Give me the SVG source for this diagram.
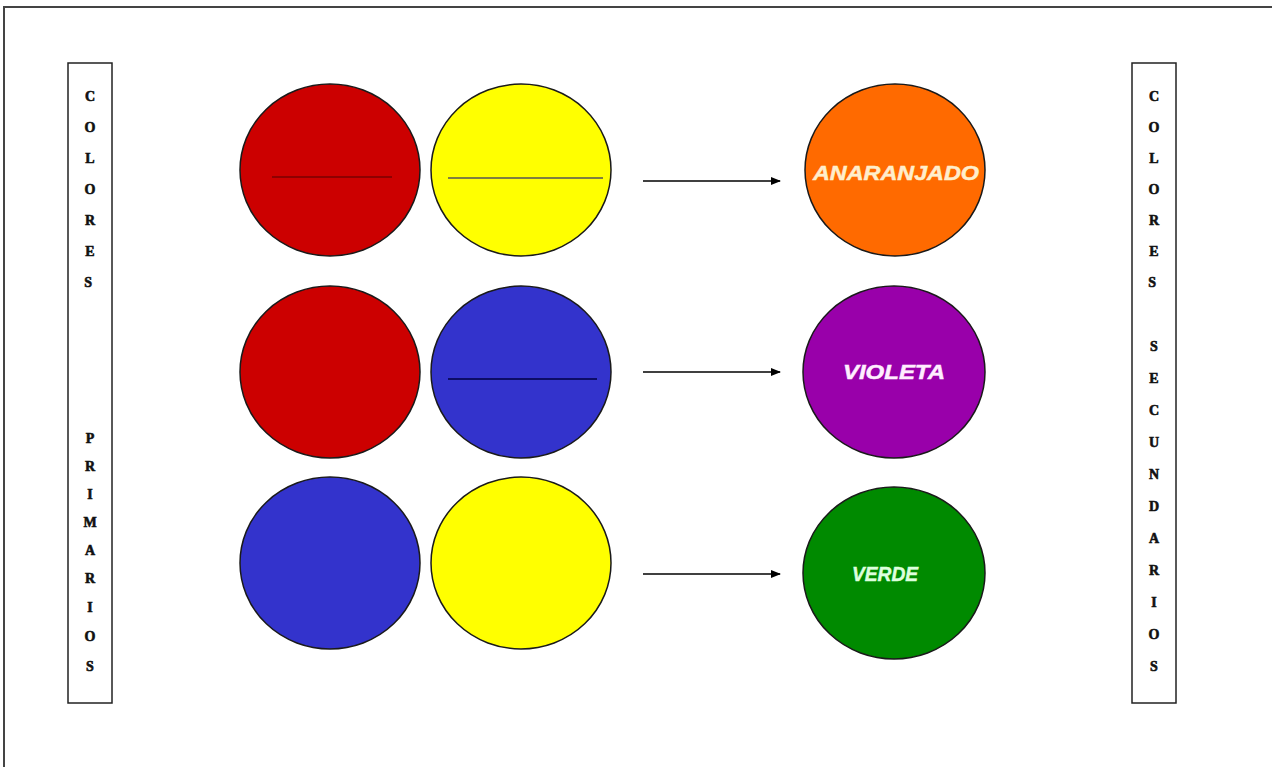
<svg xmlns="http://www.w3.org/2000/svg" width="1272" height="767" viewBox="0 0 1272 767">
<style>
.frame{fill:none;stroke:#444;stroke-width:2}
.box{fill:#fff;stroke:#222;stroke-width:1.5}
.vt{font-family:"Liberation Serif",serif;font-weight:bold;font-size:14px;fill:#111;stroke:#111;stroke-width:0.6;text-anchor:middle}
.c{stroke:#1a1a1a;stroke-width:1.5}
.bar{stroke-width:1.6}
.lbl{font-family:"Liberation Sans",Arial,sans-serif;font-weight:bold;font-style:italic;font-size:21px;text-anchor:middle;stroke-width:0.5}
.conn{stroke:#000;stroke-width:1.3;fill:none}
</style>
<defs>
<marker id="ah" markerWidth="10" markerHeight="8" refX="9" refY="4" orient="auto" markerUnits="userSpaceOnUse">
<path d="M0,0 L10,4 L0,8 Z" fill="#000"/>
</marker>
</defs>
<rect width="1272" height="767" fill="#fff"/>
<path class="frame" d="M4,767 V7 H1272"/>
<g id="primarios">
<rect class="box" x="68" y="63" width="44" height="640"/>
<text class="vt">
<tspan x="90" y="101">C</tspan><tspan x="90" y="132">O</tspan><tspan x="90" y="163">L</tspan><tspan x="90" y="194">O</tspan><tspan x="90" y="225">R</tspan><tspan x="90" y="256">E</tspan><tspan x="90" y="287">S</tspan>
<tspan x="90" y="443">P</tspan><tspan x="90" y="471">R</tspan><tspan x="90" y="499">I</tspan><tspan x="90" y="527">M</tspan><tspan x="90" y="555">A</tspan><tspan x="90" y="583">R</tspan><tspan x="90" y="612">I</tspan><tspan x="90" y="641">O</tspan><tspan x="90" y="671">S</tspan>
</text>
</g>
<g id="secundarios">
<rect class="box" x="1132" y="63" width="44" height="640"/>
<text class="vt">
<tspan x="1154" y="101">C</tspan><tspan x="1154" y="132">O</tspan><tspan x="1154" y="163">L</tspan><tspan x="1154" y="194">O</tspan><tspan x="1154" y="225">R</tspan><tspan x="1154" y="256">E</tspan><tspan x="1154" y="287">S</tspan>
<tspan x="1154" y="351">S</tspan><tspan x="1154" y="383">E</tspan><tspan x="1154" y="415">C</tspan><tspan x="1154" y="447">U</tspan><tspan x="1154" y="479">N</tspan><tspan x="1154" y="511">D</tspan><tspan x="1154" y="543">A</tspan><tspan x="1154" y="575">R</tspan><tspan x="1154" y="607">I</tspan><tspan x="1154" y="639">O</tspan><tspan x="1154" y="671">S</tspan>
</text>
</g>
<g id="rojo1">
<ellipse class="c" cx="330" cy="170" rx="90" ry="86" fill="#cc0000"/>
<line class="bar" x1="272" y1="177" x2="392" y2="177" stroke="#7a0000"/>
</g>
<g id="amarillo1">
<ellipse class="c" cx="521" cy="170" rx="90" ry="86" fill="#ffff00"/>
<line class="bar" x1="448" y1="178" x2="603" y2="178" stroke="#555"/>
</g>
<g id="anaranjado">
<ellipse class="c" cx="895" cy="170" rx="90" ry="86" fill="#ff6a00"/>
<text class="lbl" x="896" y="180" fill="#ffeecc" stroke="#ffeecc" textLength="166" lengthAdjust="spacingAndGlyphs">ANARANJADO</text>
</g>
<g id="rojo2">
<ellipse class="c" cx="330" cy="372" rx="90" ry="86" fill="#cc0000"/>
</g>
<g id="azul1">
<ellipse class="c" cx="521" cy="372" rx="90" ry="86" fill="#3333cc"/>
<line class="bar" x1="448" y1="379" x2="597" y2="379" stroke="#000044"/>
</g>
<g id="violeta">
<ellipse class="c" cx="894" cy="372" rx="91" ry="86" fill="#9900aa"/>
<text class="lbl" x="894" y="379" fill="#ffeeff" stroke="#ffeeff" textLength="102" lengthAdjust="spacingAndGlyphs">VIOLETA</text>
</g>
<g id="azul2">
<ellipse class="c" cx="330" cy="563" rx="90" ry="86" fill="#3333cc"/>
</g>
<g id="amarillo2">
<ellipse class="c" cx="521" cy="563" rx="90" ry="86" fill="#ffff00"/>
</g>
<g id="verde">
<ellipse class="c" cx="894" cy="573" rx="91" ry="86" fill="#008a00"/>
<text class="lbl" x="885" y="581" fill="#ddffdd" stroke="#ddffdd" textLength="66" lengthAdjust="spacingAndGlyphs">VERDE</text>
</g>
<g id="connectors">
<line class="conn" x1="643" y1="181" x2="780" y2="181" marker-end="url(#ah)"/>
<line class="conn" x1="643" y1="372" x2="780" y2="372" marker-end="url(#ah)"/>
<line class="conn" x1="643" y1="574" x2="780" y2="574" marker-end="url(#ah)"/>
</g>
</svg>
